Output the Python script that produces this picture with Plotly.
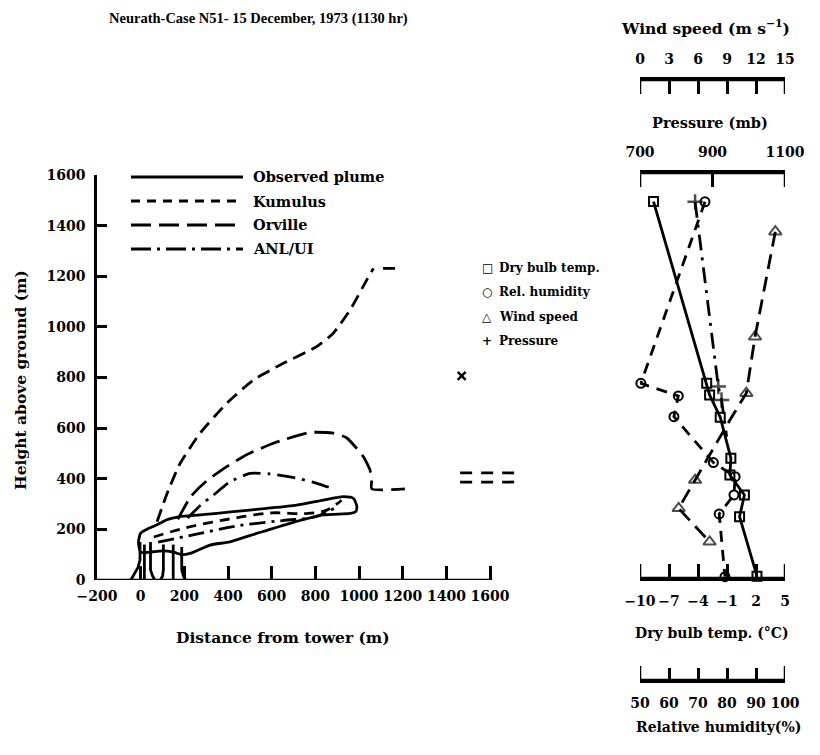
import plotly.graph_objects as go

W, H = 820, 755


def fx(px):
    return px / W


def fy(py):
    return 1 - py / H


# ---------------- data: left panel (distance m, height m) ----------------
kum_x = [75, 120, 180, 272, 394, 516, 653, 806, 882, 959, 1035, 1066, None, 1110, 1165]
kum_y = [230, 340, 460, 580, 698, 790, 856, 922, 975, 1067, 1185, 1231, None, 1231, 1231]

orv_x = [170, 230, 300, 380, 485, 623, 776, 882, 943, 1020, 1050, 1058, 1058, 1210]
orv_y = [240, 330, 390, 440, 495, 545, 583, 580, 562, 487, 435, 400, 360, 360]

anl_x = [215, 280, 333, 409, 501, 592, 715, 806, 890]
anl_y = [245, 300, 335, 388, 421, 419, 402, 382, 358]

plume_x = [-10, 0, 40, 90, 120, 180, 272, 424, 577, 714, 836, 928, 975, 990, 985, 959,
           836, 684, 531, 409, 318, 226, 190, 150, 100, 40, 0, -10]
plume_y = [150, 185, 205, 225, 238, 250, 257, 270, 283, 296, 316, 329, 322, 290, 270, 263,
           257, 224, 184, 151, 138, 105, 100, 110, 115, 110, 110, 150]

inner_kum_x = [60, 200, 400, 600, 750, 850, 920]
inner_kum_y = [170, 205, 240, 265, 262, 275, 315]
inner_anl_x = [80, 250, 450, 650, 800, 900]
inner_anl_y = [150, 180, 215, 235, 250, 290]

tower_x = [-45, -12, -3, -3, None, 45, 45, 55, 65, None, 17, 17, None,
           90, 100, 104, 104, None, 188, 188, 196, 205, None, 149, 149]
tower_y = [0, 50, 80, 150, None, 150, 40, 15, 0, None, 0, 140, None,
           0, 15, 40, 140, None, 130, 40, 15, 0, None, 0, 140]

far_x = [1463, 1715, None, 1463, 1715]
far_y = [423, 423, None, 387, 387]

obs_x = [1470]
obs_y = [806]

dist_ticks = [-200, 0, 200, 400, 600, 800, 1000, 1200, 1400, 1600]
dist_text = ["\u2212200", "0", "200", "400", "600", "800", "1000", "1200", "1400", "1600"]
height_ticks = [0, 200, 400, 600, 800, 1000, 1200, 1400, 1600]

# ---------------- data: right panel profiles ----------------
temp_h = [1495, 777, 731, 643, 481, 415, 336, 250, 15]
temp_v = [-8.6, -3.1, -2.8, -1.7, -0.6, -0.7, 0.8, 0.3, 2.1]

rh_h = [1494, 777, 727, 645, 464, 408, 336, 261, 13]
rh_v = [72.4, 50.3, 63.2, 61.7, 75.3, 82.8, 82.4, 77.3, 79.3]

wind_h = [1376, 961, 738, 632, 494, 395, 283, 151]
wind_v = [14.0, 11.9, 11.0, 9.3, 7.2, 5.7, 4.0, 7.2]
wind_mark = [11, 11, 11, 0, 0, 11, 11, 11]

pres_h = [1494, 764, 711, 566]
pres_v = [852, 916, 925, 939]
pres_mark = [11, 11, 11, 0]

temp_ticks = [-10, -7, -4, -1, 2, 5]
temp_text = ["\u221210", "\u22127", "\u22124", "\u22121", "2", "5"]
pres_ticks = [700, 900, 1100]
wind_ticks = [0, 3, 6, 9, 12, 15]
rh_ticks = [50, 60, 70, 80, 90, 100]

FONT = "DejaVu Serif"
K = "black"
LW = 2.8

fig = go.Figure()

# empty carrier traces so each scale axis has its own anchor subplot
for xa, ya in (("x3", "y3"), ("x4", "y4"), ("x5", "y5")):
    fig.add_trace(go.Scatter(x=[], y=[], xaxis=xa, yaxis=ya, mode="markers", hoverinfo="skip"))

# left panel traces
fig.add_trace(go.Scatter(x=plume_x, y=plume_y, mode="lines", line=dict(color=K, width=LW, shape="spline", smoothing=0.6)))
fig.add_trace(go.Scatter(x=tower_x, y=tower_y, mode="lines", line=dict(color=K, width=LW)))
fig.add_trace(go.Scatter(x=inner_kum_x, y=inner_kum_y, mode="lines", line=dict(color=K, width=LW, dash="10px,7px", shape="spline")))
fig.add_trace(go.Scatter(x=inner_anl_x, y=inner_anl_y, mode="lines", line=dict(color=K, width=LW, dash="16px,6px,3px,6px", shape="spline")))
fig.add_trace(go.Scatter(x=kum_x, y=kum_y, mode="lines", line=dict(color=K, width=LW, dash="13px,7px", shape="spline", smoothing=0.5)))
fig.add_trace(go.Scatter(x=orv_x, y=orv_y, mode="lines", line=dict(color=K, width=LW, dash="20px,8px", shape="spline", smoothing=0.5)))
fig.add_trace(go.Scatter(x=anl_x, y=anl_y, mode="lines", line=dict(color=K, width=LW, dash="18px,7px,3px,7px", shape="spline", smoothing=0.5)))
fig.add_trace(go.Scatter(x=far_x, y=far_y, mode="lines", line=dict(color=K, width=LW, dash="12px,9px")))
fig.add_trace(go.Scatter(x=obs_x, y=obs_y, mode="markers",
                         marker=dict(symbol="x-thin-open", size=8, color=K, line=dict(color=K, width=2.5))))

# right panel traces
fig.add_trace(go.Scatter(x=temp_v, y=temp_h, xaxis="x2", yaxis="y2", mode="lines+markers", cliponaxis=False,
                         line=dict(color=K, width=LW),
                         marker=dict(symbol="square-open", size=9, color=K, line=dict(color=K, width=2))))
fig.add_trace(go.Scatter(x=rh_v, y=rh_h, xaxis="x5", yaxis="y2", mode="lines+markers", cliponaxis=False,
                         line=dict(color=K, width=LW, dash="11px,8px"),
                         marker=dict(symbol="circle-open", size=9, color=K, line=dict(color=K, width=2))))
fig.add_trace(go.Scatter(x=wind_v, y=wind_h, xaxis="x4", yaxis="y2", mode="lines+markers", cliponaxis=False,
                         line=dict(color=K, width=LW, dash="15px,8px"),
                         marker=dict(symbol="triangle-up-open", size=wind_mark, color=K, line=dict(color=K, width=2))))
fig.add_trace(go.Scatter(x=pres_v, y=pres_h, xaxis="x3", yaxis="y2", mode="lines+markers", cliponaxis=False,
                         line=dict(color=K, width=LW, dash="16px,7px,3px,7px"),
                         marker=dict(symbol="cross-thin-open", size=pres_mark, color=K, line=dict(color=K, width=2.5))))

tick_font = dict(family=FONT, size=14, color=K, weight="bold")
common_x = dict(showgrid=False, zeroline=False, ticks="inside", tickcolor=K, tickwidth=2.5,
                linecolor=K, linewidth=2.5, tickfont=tick_font, fixedrange=True,
                automargin=False, tickangle=0)
RDOM = [fx(640), fx(785)]

hidden_y = dict(visible=False, fixedrange=True, automargin=False, range=[0, 1])

fig.update_layout(
    width=W, height=H,
    margin=dict(l=0, r=0, t=0, b=0, pad=0, autoexpand=False),
    paper_bgcolor="white", plot_bgcolor="rgba(0,0,0,0)",
    showlegend=False,
    font=dict(family=FONT, color=K, weight="bold"),
    xaxis=dict(domain=[fx(97), fx(525)], range=[-200, 1760], anchor="y",
               tickvals=dist_ticks, ticktext=dist_text, ticklen=14, showline=False,
               ticklabelstandoff=6, **{k: v for k, v in common_x.items() if k not in ("linecolor", "linewidth")}),
    yaxis=dict(domain=[fy(580), fy(175)], range=[0, 1600], anchor="x",
               tickvals=height_ticks, ticklen=10, showline=True, ticklabelstandoff=6, **common_x),
    yaxis2=dict(domain=[fy(578), fy(175)], range=[7.9, 1600], anchor="x2", visible=False,
                fixedrange=True, automargin=False),
    xaxis2=dict(domain=RDOM, range=[-10, 5], anchor="y2", side="bottom",
                tickvals=temp_ticks, ticktext=temp_text, ticklen=14, showline=True,
                ticklabelstandoff=8, **common_x),
    yaxis3=dict(domain=[fy(173) - 0.03, fy(173)], anchor="x3", **hidden_y),
    xaxis3=dict(domain=RDOM, anchor="y3", side="top", range=[700, 1100],
                tickvals=pres_ticks, ticklen=14, showline=True, ticklabelstandoff=8, **common_x),
    yaxis4=dict(domain=[fy(80) - 0.05, fy(80)], anchor="x4", **hidden_y),
    xaxis4=dict(domain=RDOM, anchor="y4", side="top", range=[0, 15],
                tickvals=wind_ticks, ticklen=14, showline=True, ticklabelstandoff=8, **common_x),
    yaxis5=dict(domain=[fy(680), fy(680) + 0.05], anchor="x5", **hidden_y),
    xaxis5=dict(domain=RDOM, anchor="y5", side="bottom", range=[50, 100],
                tickvals=rh_ticks, ticklen=12, showline=True, ticklabelstandoff=8, **common_x),
)

# left x axis baseline (only to 1600)
fig.add_shape(type="line", xref="x", yref="y", x0=-200, x1=1600, y0=0, y1=0,
              line=dict(color=K, width=2.5))

# scale-bar lines and end ticks for the right-hand axes (row pixel, tick direction, axis, ends)
scale_bars = [(80, 1, "x4", wind_ticks), (173, 1, "x3", pres_ticks), (680, -1, "x5", rh_ticks),
              (578, -1, "x2", temp_ticks)]
for row, sgn, xr, tv in scale_bars:
    fig.add_shape(type="line", xref=f"{xr} domain", yref="paper", x0=0, x1=1, y0=fy(row), y1=fy(row),
                  line=dict(color=K, width=2.5))
    for v in (tv[0], tv[-1]):
        fig.add_shape(type="line", xref=xr, yref="paper", x0=v, x1=v, y0=fy(row), y1=fy(row + sgn * 14),
                      line=dict(color=K, width=2.5))

# left legend line samples
leg_rows = [177, 201, 225, 249]
leg_dash = ["solid", "9px,7px", "20px,8px", "20px,6px,3px,6px"]
leg_text = ["Observed plume", "Kumulus", "Orville", "ANL/UI"]
for r, d, t in zip(leg_rows, leg_dash, leg_text):
    fig.add_shape(type="line", xref="paper", yref="paper", x0=fx(131), x1=fx(243), y0=fy(r), y1=fy(r),
                  line=dict(color=K, width=LW, dash=d))
    fig.add_annotation(text=t, xref="paper", yref="paper", x=fx(251), y=fy(r), xanchor="left",
                       yanchor="middle", showarrow=False, font=dict(family=FONT, size=14.5, color=K, weight="bold"))

# right legend
rleg_rows = [268, 292, 317, 341]
rleg_sym = ["\u25a1", "\u25cb", "\u25b3", "+"]
rleg_text = ["Dry bulb temp.", "Rel. humidity", "Wind speed", "Pressure"]
for r, s, t in zip(rleg_rows, rleg_sym, rleg_text):
    fig.add_annotation(text=s, xref="paper", yref="paper", x=fx(487), y=fy(r), xanchor="center",
                       yanchor="middle", showarrow=False, font=dict(family="DejaVu Sans", size=12, color=K, weight="bold"))
    fig.add_annotation(text=t, xref="paper", yref="paper", x=fx(497), y=fy(r), xanchor="left",
                       yanchor="middle", showarrow=False, font=dict(family=FONT, size=12, color=K, weight="bold"))


# titles
def ann(text, x, y, size, angle=0, family=FONT):
    fig.add_annotation(text=text, xref="paper", yref="paper", x=fx(x), y=fy(y), xanchor="center",
                       yanchor="middle", showarrow=False, textangle=angle,
                       font=dict(family=family, size=size, color=K, weight="bold"))


ann("Neurath-Case N51- 15 December, 1973 (1130 hr)", 258, 18, 14.5, family="Liberation Serif")
ann("Wind speed (m s<sup>\u22121</sup>)", 705, 27, 15.5)
ann("Pressure (mb)", 710, 122, 14.5)
ann("Dry bulb temp. (\u00b0C)", 712, 633, 14)
ann("Relative humidity(%)", 718, 727, 14)
ann("Distance from tower (m)", 283, 637, 15.5)
ann("Height above ground (m)", 20, 380, 15.5, -90)

fig.write_html("out.html")
